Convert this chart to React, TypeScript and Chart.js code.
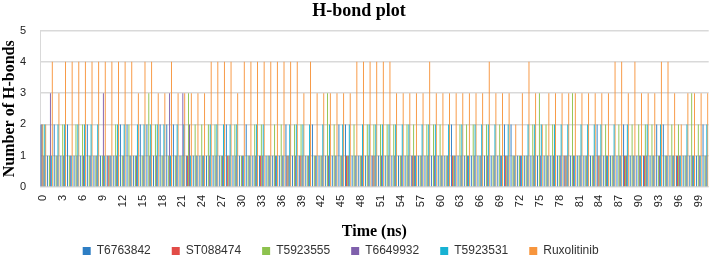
import React, { useEffect, useRef } from 'react';
import { Chart, registerables } from 'chart.js';

Chart.register(...registerables);

const categories = [
  '0','1','2','3','4','5','6','7','8','9',
  '10','11','12','13','14','15','16','17','18','19',
  '20','21','22','23','24','25','26','27','28','29',
  '30','31','32','33','34','35','36','37','38','39',
  '40','41','42','43','44','45','46','47','48','49',
  '50','51','52','53','54','55','56','57','58','59',
  '60','61','62','63','64','65','66','67','68','69',
  '70','71','72','73','74','75','76','77','78','79',
  '80','81','82','83','84','85','86','87','88','89',
  '90','91','92','93','94','95','96','97','98','99',
  '100',
];

const xTickLabels = [
  '0','3','6','9','12','15','18','21','24','27','30','33','36','39','42','45','48',
  '51','54','57','60','63','66','69','72','75','78','81','84','87','90','93','96','99',
];

const yTicks = [0, 1, 2, 3, 4, 5];

const seriesNames = ['T6763842', 'ST088474', 'T5923555', 'T6649932', 'T5923531', 'Ruxolitinib'];
const seriesColors = ['#2E7EC4', '#E24C47', '#8DC24E', '#7F60AC', '#17B2D3', '#F7953D'];

const t6763842 = [
  2,1,2,1,2,1,1,2,1,1,
  1,1,2,2,1,2,2,1,2,2,
  2,1,1,1,1,1,1,1,2,1,
  1,2,1,1,1,1,1,2,1,1,
  1,2,1,1,1,2,2,1,1,1,
  1,1,1,1,1,1,1,1,1,1,
  1,1,2,1,1,1,1,1,1,1,
  2,2,1,1,1,1,1,1,1,1,
  1,1,1,1,2,1,1,1,2,1,
  1,1,1,2,2,1,1,1,1,1,
  2,
];

const st088474 = [
  2,0,0,0,0,0,0,0,0,0,
  1,0,0,0,0,0,0,0,0,0,
  0,0,1,0,0,0,0,0,1,0,
  0,0,0,1,0,0,0,1,0,1,
  0,0,0,0,0,0,1,0,0,0,
  1,0,0,0,0,0,1,0,0,0,
  0,0,1,0,0,0,0,0,0,0,
  1,0,0,0,0,0,0,0,0,1,
  0,0,0,0,1,0,0,0,1,0,
  0,1,0,0,0,0,1,0,0,0,
  0,
];

const t5923555 = [
  2,1,1,2,1,2,2,1,1,1,
  1,2,1,2,1,1,3,2,1,1,
  1,1,3,2,2,2,2,1,1,2,
  1,1,2,2,1,2,2,1,2,2,
  1,1,1,3,2,1,1,2,1,2,
  2,2,2,2,1,2,2,1,2,2,
  2,1,1,2,2,2,1,2,1,2,
  1,1,1,1,2,3,2,2,1,1,
  3,1,1,1,1,2,1,2,1,2,
  2,2,2,1,1,2,2,1,3,2,
  1,
];

const t6649932 = [
  1,3,1,1,1,1,1,1,1,3,
  1,1,1,1,1,1,1,1,1,3,
  1,3,2,1,1,1,1,1,1,1,
  1,1,1,1,1,1,1,1,1,1,
  1,1,1,1,1,1,1,1,1,1,
  1,1,1,1,1,1,1,1,1,1,
  1,1,1,1,1,1,1,1,1,1,
  1,1,1,1,1,1,1,1,1,1,
  1,1,1,1,1,1,1,1,1,1,
  1,1,1,1,1,1,1,1,1,1,
  1,
];

const t5923531 = [
  2,1,2,2,1,2,2,2,2,1,
  1,2,2,1,2,2,2,2,2,1,
  2,2,1,1,1,2,2,2,2,2,
  1,1,2,2,1,1,1,2,2,2,
  2,1,2,2,1,2,2,1,2,2,
  2,2,2,2,2,2,1,2,2,2,
  1,2,1,2,1,2,2,2,2,1,
  2,1,1,2,2,2,1,2,2,2,
  1,2,2,2,2,1,2,1,2,1,
  1,2,1,2,1,1,1,2,1,1,
  2,
];

const ruxolitinib = [
  2,4,3,4,4,4,4,4,4,4,
  4,4,4,4,3,4,4,3,3,4,
  3,3,3,3,3,4,4,4,4,3,
  4,4,4,4,4,4,4,4,4,3,
  4,3,3,3,3,3,3,4,4,4,
  4,4,4,3,3,3,3,3,4,3,
  3,3,3,3,3,3,3,4,3,3,
  3,2,3,4,3,2,3,3,3,3,
  3,3,3,3,3,3,4,4,3,4,
  3,3,3,4,4,3,2,3,3,3,
  3,
];

const seriesValues = [t6763842, st088474, t5923555, t6649932, t5923531, ruxolitinib];

export default function App() {
  const canvasRef = useRef<HTMLCanvasElement | null>(null);

  useEffect(() => {
    document.body.style.margin = '0';
    const canvas = canvasRef.current;
    if (!canvas) return;

    const tickFont = { family: 'Liberation Sans', size: 11 };
    const chart = new Chart(canvas, {
      type: 'bar',
      data: {
        labels: categories,
        datasets: seriesNames.map((name, i) => ({
          label: i === seriesNames.length - 1 ? name + '           ' : name,
          data: seriesValues[i],
          backgroundColor: seriesColors[i],
          borderWidth: 0,
          categoryPercentage: 0.85,
          barPercentage: 1.0,
        })),
      },
      options: {
        animation: false,
        responsive: false,
        devicePixelRatio: 1,
        layout: { padding: { left: 0, right: 2, top: 0, bottom: -12 } },
        plugins: {
          title: {
            display: true,
            text: 'H-bond plot',
            color: '#000',
            font: { family: 'Liberation Serif', size: 18, weight: 'bold' },
            padding: { top: 1, bottom: 8 },
          },
          legend: {
            position: 'bottom',
            labels: {
              boxWidth: 8,
              boxHeight: 8,
              padding: 21,
              color: '#333',
              font: { family: 'Liberation Sans', size: 12 },
            },
          },
          tooltip: { enabled: false },
        },
        scales: {
          x: {
            offset: true,
            grid: { display: false, drawTicks: false },
            border: { display: true, color: '#D9D9D9', width: 1 },
            ticks: {
              autoSkip: false,
              minRotation: 90,
              maxRotation: 90,
              padding: 8,
              color: '#222',
              font: tickFont,
              callback: (_v: any, i: number) =>
                xTickLabels.includes(categories[i]) ? categories[i] : null,
            },
            title: {
              display: true,
              text: 'Time (ns)',
              color: '#000',
              font: { family: 'Liberation Serif', size: 16, weight: 'bold' },
              padding: { top: 7.2, bottom: -17.6 },
            },
          },
          y: {
            min: yTicks[0],
            max: yTicks[yTicks.length - 1],
            grid: { color: '#D9D9D9', lineWidth: 1.5, drawTicks: false },
            border: { display: true, color: '#D9D9D9', width: 1 },
            ticks: {
              stepSize: 1,
              padding: 14,
              color: '#222',
              font: tickFont,
            },
            title: {
              display: true,
              text: 'Number of H-bonds',
              color: '#000',
              font: { family: 'Liberation Serif', size: 16, weight: 'bold' },
              padding: { top: 0, bottom: -13.3 },
            },
          },
        },
      },
    });
    return () => chart.destroy();
  }, []);

  return (
    <div style={{ width: 720, height: 255 }}>
      <canvas ref={canvasRef} width={720} height={255} />
    </div>
  );
}
